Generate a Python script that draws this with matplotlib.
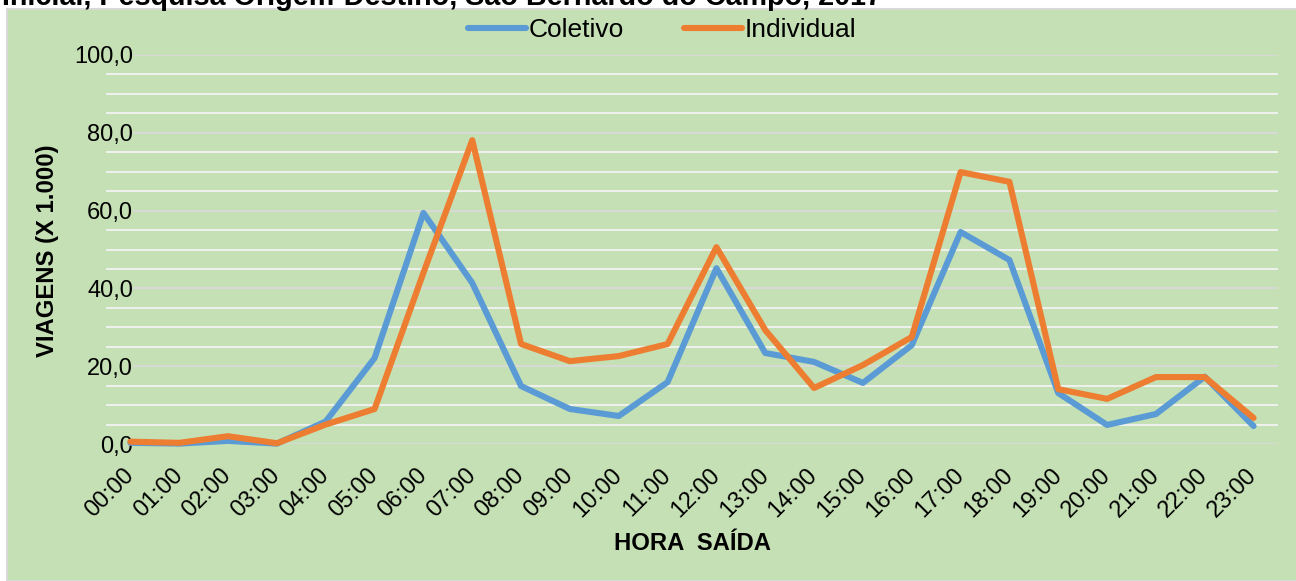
import matplotlib
matplotlib.use("Agg")
import matplotlib.pyplot as plt
from matplotlib.patches import Rectangle
from matplotlib.ticker import MultipleLocator, FuncFormatter

plt.rcParams['font.family'] = ['Liberation Sans', 'DejaVu Sans']

horas = ["00:00", "01:00", "02:00", "03:00", "04:00", "05:00", "06:00", "07:00",
         "08:00", "09:00", "10:00", "11:00", "12:00", "13:00", "14:00", "15:00",
         "16:00", "17:00", "18:00", "19:00", "20:00", "21:00", "22:00", "23:00"]
coletivo = [0.3, 0.1, 0.8, 0.1, 5.8, 22.1, 59.4, 41.4, 14.9, 9.0, 7.2, 15.9,
            45.2, 23.4, 21.1, 15.7, 25.4, 54.5, 47.3, 13.1, 4.9, 7.7, 17.3, 4.6]
individual = [0.6, 0.3, 2.0, 0.2, 5.0, 9.0, 44.0, 78.1, 25.7, 21.3, 22.6, 25.7,
              50.6, 29.3, 14.4, 20.3, 27.5, 69.9, 67.4, 14.1, 11.6, 17.2, 17.2, 6.7]

W, H = 1296, 581
BG = '#C5E0B4'
BLUE = '#5B9BD5'
ORANGE = '#ED7D31'

fig = plt.figure(figsize=(W / 100, H / 100), dpi=100)
fig.patch.set_facecolor('white')
bg = Rectangle((7 / W, 0), 1, 1 - 9 / H, transform=fig.transFigure,
               facecolor=BG, edgecolor='#D9D9D9', linewidth=1.5, zorder=-5)
fig.patches.append(bg)

fig.text(2 / W, 1 - 5 / H, "Inicial, Pesquisa Origem-Destino, São Bernardo do Campo, 2017",
         fontsize=20.7, fontweight='bold', ha='left', va='baseline')

ax = fig.add_axes([106 / W, 1 - 444 / H, (1278 - 106) / W, (444 - 55) / H])
ax.set_zorder(2)
ax.set_facecolor('none')
x = list(range(len(horas)))
ax.plot(x, coletivo, color=BLUE, lw=4.4, label='Coletivo', solid_joinstyle='round',
        solid_capstyle='round', clip_on=False, zorder=3)
ax.plot(x, individual, color=ORANGE, lw=4.4, label='Individual', solid_joinstyle='round',
        solid_capstyle='round', clip_on=False, zorder=4)

ax.set_xlim(-0.5, len(horas) - 0.5)
ax.set_ylim(0, 100)
ax.yaxis.set_major_locator(MultipleLocator(20))
ax.yaxis.set_minor_locator(MultipleLocator(5))
ax.yaxis.set_major_formatter(FuncFormatter(lambda v, p: f"{v:.1f}".replace('.', ',')))
ax.grid(axis='y', which='minor', color='#F2F2F2', lw=1.3, zorder=1)
ax.grid(axis='y', which='major', color='#D9D9D9', lw=1.3, zorder=1)
ax.set_axisbelow(True)
for s in ax.spines.values():
    s.set_visible(False)

ax.set_xticks(x)
ax.set_xticklabels(horas, fontsize=17, rotation=45, ha='right', va='center',
                   rotation_mode='anchor')
ax.tick_params(axis='x', length=0, pad=20)
ax.tick_params(axis='y', which='both', length=0)
ax.tick_params(axis='y', labelsize=17, pad=-19.5)
for lab in ax.get_yticklabels():
    lab.set_bbox(dict(facecolor=BG, edgecolor='none', pad=0))

fig.text(692 / W, 1 - 543 / H, "HORA  SAÍDA", fontsize=17.2, fontweight='bold',
         ha='center', va='center')
fig.text(48 / W, 1 - 251 / H, "VIAGENS (X 1.000)", fontsize=17.2, fontweight='bold',
         ha='center', va='center', rotation=90)

fig.legend(loc='center', bbox_to_anchor=(662 / W, 1 - 30 / H), ncol=2, frameon=False,
           fontsize=19, handlelength=2.2, handletextpad=0.1, columnspacing=2.3,
           borderaxespad=0, borderpad=0)

fig.savefig('out.png', dpi=100, facecolor='white')
